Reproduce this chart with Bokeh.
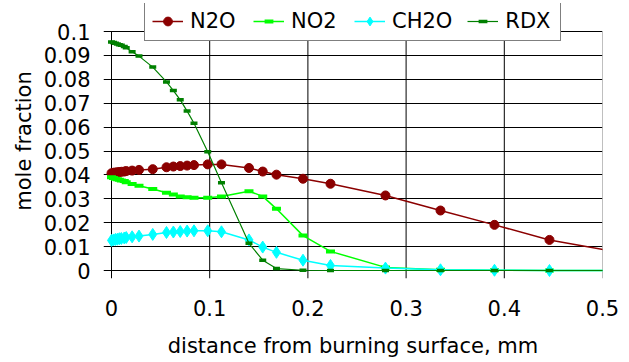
from bokeh.plotting import figure
from bokeh.models import Range1d, FixedTicker, Legend, LegendItem
from bokeh.embed import file_html
from bokeh.resources import INLINE

# distance from burning surface, mm (shared mesh for all species)
distance = [0, 0.002, 0.004, 0.006, 0.008, 0.010, 0.013, 0.015, 0.021, 0.028,
            0.042, 0.056, 0.063, 0.070, 0.077, 0.084, 0.098, 0.112, 0.140, 0.154,
            0.168, 0.195, 0.223, 0.279, 0.335, 0.390, 0.446, 0.515]

n2o = [0.0407, 0.0409, 0.0410, 0.0411, 0.0412, 0.0413, 0.0414, 0.0416, 0.0418, 0.0421,
       0.0424, 0.0432, 0.0435, 0.0437, 0.0439, 0.0441, 0.0444, 0.0444, 0.0429, 0.0414,
       0.0401, 0.0384, 0.0363, 0.0314, 0.0251, 0.0191, 0.0128, 0.0077]

no2 = [0.0390, 0.0387, 0.0384, 0.0382, 0.0380, 0.0377, 0.0374, 0.0369, 0.0362, 0.0355,
       0.0341, 0.0325, 0.0318, 0.0310, 0.0306, 0.0304, 0.0304, 0.0310, 0.0332, 0.0310,
       0.0258, 0.0146, 0.0080, 0.0013, 0.0003, 0.0001, 0.0, 0.0]

ch2o = [0.0126, 0.0128, 0.0130, 0.0131, 0.0133, 0.0134, 0.0136, 0.0138, 0.0141, 0.0144,
        0.0151, 0.0159, 0.0161, 0.0163, 0.0165, 0.0166, 0.0166, 0.0162, 0.0128, 0.0098,
        0.0076, 0.0043, 0.0021, 0.0010, 0.0003, 0.0001, 0.0, 0.0]

rdx = [0.0956, 0.0954, 0.0951, 0.0948, 0.0945, 0.0942, 0.0937, 0.0932, 0.0915, 0.0897,
       0.0851, 0.0789, 0.0753, 0.0714, 0.0667, 0.0616, 0.0497, 0.0367, 0.0114, 0.0043,
       0.0008, 0.0001, 0.0, 0.0, 0.0, 0.0, 0.0, 0.0]

x_ticks = [0, 0.1, 0.2, 0.3, 0.4, 0.5]
x_tick_labels = ["0", "0.1", "0.2", "0.3", "0.4", "0.5"]
y_ticks = [0, 0.01, 0.02, 0.03, 0.04, 0.05, 0.06, 0.07, 0.08, 0.09, 0.1]
y_tick_labels = ["0", "0.01", "0.02", "0.03", "0.04", "0.05", "0.06", "0.07", "0.08", "0.09", "0.1"]

FONT = "DejaVu Sans"
FS = "21px"

# plot-area geometry (pixels) used to leave room for tick marks outside the data box
W, H = 629, 362
LEFT, RIGHT, TOP, BOTTOM = 103, 602, 3, 278
TICK = 8
X0, X1 = x_ticks[0], x_ticks[-1]
Y0, Y1 = y_ticks[0], y_ticks[-1]
px_per_x = (RIGHT - (LEFT + TICK)) / (X1 - X0)
px_per_y = ((BOTTOM - TICK) - 31) / (Y1 - Y0)
x_start = X0 - TICK / px_per_x
y_start = Y0 - TICK / px_per_y
y_end = Y1 + (31 - TOP) / px_per_y

p = figure(width=W, height=H, x_range=Range1d(x_start, X1), y_range=Range1d(y_start, y_end),
           output_backend="svg", toolbar_location=None,
           min_border_left=LEFT, min_border_right=W - RIGHT, min_border_top=TOP,
           min_border_bottom=H - BOTTOM)
p.background_fill_color = "white"
p.border_fill_color = "white"
p.outline_line_color = None

for ax, ticks, labels in ((p.xaxis[0], x_ticks, x_tick_labels), (p.yaxis[0], y_ticks, y_tick_labels)):
    ax.ticker = FixedTicker(ticks=ticks)
    ax.major_label_overrides = {t: l for t, l in zip(ticks, labels)}
    ax.major_label_text_font = FONT
    ax.major_label_text_font_size = FS
    ax.major_label_text_color = "black"
    ax.axis_label_text_font = FONT
    ax.axis_label_text_font_size = FS
    ax.axis_label_text_font_style = "normal"
    ax.axis_label_text_color = "black"
    ax.axis_line_color = None
    ax.major_tick_line_color = None
    ax.major_tick_out = 0
    ax.major_tick_in = 0
    ax.minor_tick_line_color = None

p.xaxis.axis_label = "distance from burning surface, mm"
p.yaxis.axis_label = "mole fraction"
p.xaxis.major_label_standoff = 21
p.xaxis.axis_label_standoff = 15
p.yaxis.major_label_standoff = 13
p.yaxis.axis_label_standoff = 5

# horizontal grid lines (they run left past the axis like Excel's tick marks)
p.xgrid.grid_line_color = None
p.ygrid.grid_line_color = "black"
p.ygrid.grid_line_width = 1

# vertical grid lines / y axis line / right border, each with a tick below the x axis
vcolors = ["black"] * (len(x_ticks) - 1) + ["#808080"]
p.segment(x0=x_ticks, y0=[y_start] * len(x_ticks), x1=x_ticks, y1=[Y1] * len(x_ticks),
          line_color=vcolors, line_width=1)

series = [
    ("N2O", n2o, "#8B0000", 1.5, dict(marker="circle", size=9, fill_color="#8B0000", line_color="#8B0000")),
    ("NO2", no2, "#00FF00", 1.5, dict(marker="dash", size=9, line_width=4, line_color="#00FF00")),
    ("CH2O", ch2o, "#00FFFF", 1.5, dict(marker="diamond", size=12, fill_color="#00FFFF", line_color="#00FFFF")),
    ("RDX", rdx, "#008000", 1.2, dict(marker="dash", size=7, line_width=3.5, line_color="#008000")),
]

items = []
for name, ys, color, lw, mk in series:
    r1 = p.line(distance, ys, line_color=color, line_width=lw)
    r2 = p.scatter(distance[:-1], ys[:-1], **mk)
    items.append(LegendItem(label=name, renderers=[r1, r2]))

legend = Legend(items=items, orientation="horizontal", location=(144 - LEFT, BOTTOM - 41),
                glyph_width=31, glyph_height=22, label_standoff=7, spacing=15,
                label_width=48, label_height=22, padding=7, margin=0,
                label_text_font=FONT, label_text_font_size=FS, label_text_color="black",
                label_text_baseline="middle",
                border_line_color="black", border_line_width=1,
                background_fill_color="white", background_fill_alpha=1.0)
p.add_layout(legend, "center")

open("out.html", "w").write(file_html(p, INLINE))
